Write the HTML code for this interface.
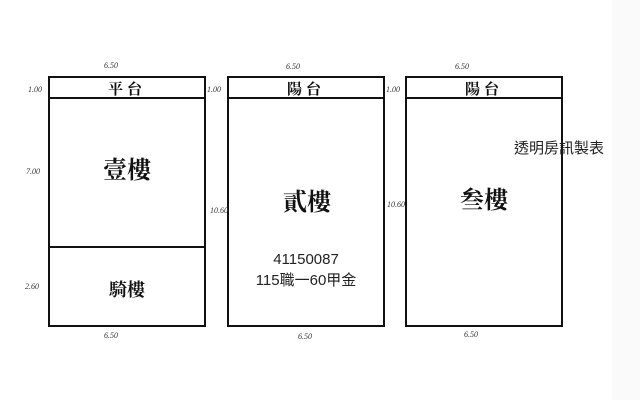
<!DOCTYPE html>
<html><head><meta charset="utf-8"><style>
html,body{margin:0;padding:0;background:#fff;}
svg{display:block}
.s{font-family:"Liberation Serif","Noto Serif CJK SC",serif;font-weight:bold;fill:#111}
.h{font-family:"Liberation Sans","Noto Sans CJK TC",sans-serif;fill:#222}
.d{font-family:"Liberation Serif",serif;font-style:italic;font-size:8px;fill:#333}
</style></head><body>
<svg width="640" height="400" viewBox="0 0 640 400">
<rect x="0" y="0" width="640" height="400" fill="#fff"/>
<rect x="612" y="0" width="28" height="400" fill="#fafafa"/>
<g fill="none" stroke="#111" stroke-width="2">
<rect x="49" y="77" width="156" height="249"/>
<line x1="49" y1="98" x2="205" y2="98"/>
<line x1="49" y1="247" x2="205" y2="247"/>
<rect x="228" y="77" width="156" height="249"/>
<line x1="228" y1="98" x2="384" y2="98"/>
<rect x="406" y="77" width="156" height="249"/>
<line x1="406" y1="98" x2="562" y2="98"/>
</g>
<text class="s" x="127" y="94" font-size="15" text-anchor="middle" letter-spacing="4">平台</text>
<text class="s" x="306" y="94" font-size="15" text-anchor="middle" letter-spacing="4">陽台</text>
<text class="s" x="484" y="94" font-size="15" text-anchor="middle" letter-spacing="4">陽台</text>
<text class="s" x="127" y="178" font-size="24" text-anchor="middle">壹樓</text>
<text class="s" x="127" y="296" font-size="18" text-anchor="middle">騎樓</text>
<text class="s" x="307" y="210" font-size="24" text-anchor="middle">貳樓</text>
<text class="s" x="484" y="208" font-size="24" text-anchor="middle">叁樓</text>
<text class="h" x="306" y="264" font-size="15" text-anchor="middle">41150087</text>
<text class="h" x="306" y="285" font-size="15" text-anchor="middle">115職一60甲金</text>
<text class="h" x="514" y="153" font-size="15">透明房訊製表</text>
<text class="d" x="104" y="68">6.50</text>
<text class="d" x="286" y="69">6.50</text>
<text class="d" x="455" y="69">6.50</text>
<text class="d" x="104" y="338">6.50</text>
<text class="d" x="298" y="339">6.50</text>
<text class="d" x="464" y="337">6.50</text>
<text class="d" x="28" y="92">1.00</text>
<text class="d" x="207" y="92">1.00</text>
<text class="d" x="386" y="92">1.00</text>
<text class="d" x="26" y="174">7.00</text>
<text class="d" x="25" y="289">2.60</text>
<text class="d" x="210" y="213">10.60</text>
<text class="d" x="387" y="207">10.60</text>
</svg>
</body></html>
